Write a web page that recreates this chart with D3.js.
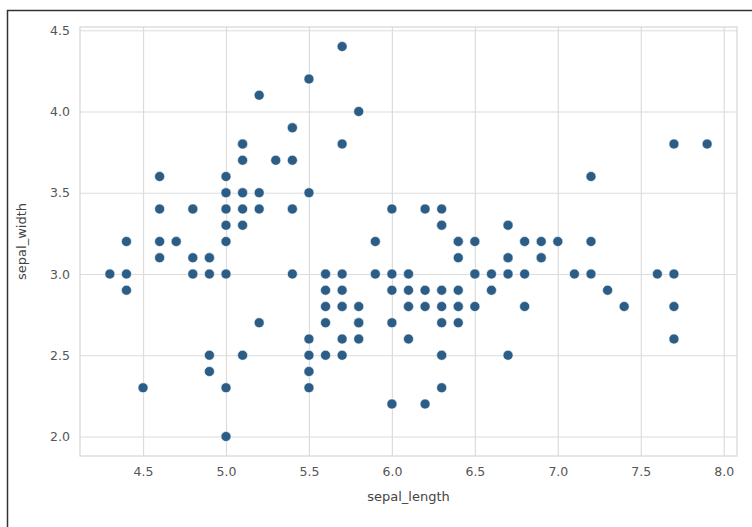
<!DOCTYPE html>
<html>
<head>
<meta charset="utf-8">
<script src="https://cdn.jsdelivr.net/npm/d3@7"></script>
<style>
  body { margin: 0; background: #fff; }
  .axis_text { font-family: "DejaVu Sans", sans-serif; font-size: 12.5px; fill: #555; }
  .label { font-family: "DejaVu Sans", sans-serif; font-size: 13px; fill: #444; }
</style>
</head>
<body>
<figure id="chart" style="margin:0"></figure>
<script>
// iris sepal measurements
var sepalLength = [
    5.1,4.9,4.7,4.6,5.0,5.4,4.6,5.0,4.4,4.9,5.4,4.8,4.8,4.3,5.8,5.7,5.4,5.1,5.7,5.1,
    5.4,5.1,4.6,5.1,4.8,5.0,5.0,5.2,5.2,4.7,4.8,5.4,5.2,5.5,4.9,5.0,5.5,4.9,4.4,5.1,
    5.0,4.5,4.4,5.0,5.1,4.8,5.1,4.6,5.3,5.0,
    7.0,6.4,6.9,5.5,6.5,5.7,6.3,4.9,6.6,5.2,5.0,5.9,6.0,6.1,5.6,6.7,5.6,5.8,6.2,5.6,
    5.9,6.1,6.3,6.1,6.4,6.6,6.8,6.7,6.0,5.7,5.5,5.5,5.8,6.0,5.4,6.0,6.7,6.3,5.6,5.5,
    5.5,6.1,5.8,5.0,5.6,5.7,5.7,6.2,5.1,5.7,
    6.3,5.8,7.1,6.3,6.5,7.6,4.9,7.3,6.7,7.2,6.5,6.4,6.8,5.7,5.8,6.4,6.5,7.7,7.7,6.0,
    6.9,5.6,7.7,6.3,6.7,7.2,6.2,6.1,6.4,7.2,7.4,7.9,6.4,6.3,6.1,7.7,6.3,6.4,6.0,6.9,
    6.7,6.9,5.8,6.8,6.7,6.7,6.3,6.5,6.2,5.9
];
var sepalWidth = [
    3.5,3.0,3.2,3.1,3.6,3.9,3.4,3.4,2.9,3.1,3.7,3.4,3.0,3.0,4.0,4.4,3.9,3.5,3.8,3.8,
    3.4,3.7,3.6,3.3,3.4,3.0,3.4,3.5,3.4,3.2,3.1,3.4,4.1,4.2,3.1,3.2,3.5,3.1,3.0,3.4,
    3.5,2.3,3.2,3.5,3.8,3.0,3.8,3.2,3.7,3.3,
    3.2,3.2,3.1,2.3,2.8,2.8,3.3,2.4,2.9,2.7,2.0,3.0,2.2,2.9,2.9,3.1,3.0,2.7,2.2,2.5,
    3.2,2.8,2.5,2.8,2.9,3.0,2.8,3.0,2.9,2.6,2.4,2.4,2.7,2.7,3.0,3.4,3.1,2.3,3.0,2.5,
    2.6,3.0,2.6,2.3,2.7,3.0,2.9,2.9,2.5,2.8,
    3.3,2.7,3.0,2.9,3.0,3.0,2.5,2.9,2.5,3.6,3.2,2.7,3.0,2.5,2.8,3.2,3.0,3.8,2.6,2.2,
    3.2,2.8,2.8,2.7,3.3,3.2,2.8,3.0,2.8,3.0,2.8,3.8,2.8,2.8,2.6,3.0,3.4,3.1,3.0,3.1,
    3.1,3.1,2.7,3.2,3.3,3.0,2.5,3.0,3.4,3.0
];
var xTicks = [4.5, 5.0, 5.5, 6.0, 6.5, 7.0, 7.5, 8.0];
var yTicks = [2.0, 2.5, 3.0, 3.5, 4.0, 4.5];

let dimensions = {
    width: 752,
    height: 527,
    margin: {
        top: 27,
        right: 15,
        bottom: 71,
        left: 80,
    },
};
dimensions.boundedWidth = dimensions.width - dimensions.margin.left - dimensions.margin.right;
dimensions.boundedHeight = dimensions.height - dimensions.margin.top - dimensions.margin.bottom;

var data = sepalLength.map((d, i) => ({ length: d, width: sepalWidth[i] }));

var root = d3.select("figure#chart")
    .append("svg")
    .attr("width", dimensions.width)
    .attr("height", dimensions.height);

// outer frame (left + top edge of the screenshot)
root.append("path")
    .attr("d", `M7.5,${dimensions.height} L7.5,10.5 L${dimensions.width},10.5`)
    .attr("fill", "none")
    .attr("stroke", "#333")
    .attr("stroke-width", 1.5);

var svg = root.append("g")
    .attr("transform", `translate(${dimensions.margin.left},${dimensions.margin.top})`);

// matplotlib-like 5% margins
var xExt = d3.extent(data, d => d.length), xPad = (xExt[1] - xExt[0]) * 0.05;
var yExt = d3.extent(data, d => d.width), yPad = (yExt[1] - yExt[0]) * 0.05;

var xScale = d3.scaleLinear()
    .domain([xExt[0] - xPad, xExt[1] + xPad])
    .range([0, dimensions.boundedWidth]);

var yScale = d3.scaleLinear()
    .domain([yExt[0] - yPad, yExt[1] + yPad])
    .range([dimensions.boundedHeight, 0]);

// grid
svg.append("g")
    .attr("class", "grid")
    .call(d3.axisBottom(xScale).tickValues(xTicks).tickSize(dimensions.boundedHeight).tickFormat(""))
    .call(g => g.select(".domain").remove())
    .selectAll("line").attr("stroke", "#dcdcdc").attr("stroke-width", 1.2);

svg.append("g")
    .attr("class", "grid")
    .call(d3.axisLeft(yScale).tickValues(yTicks).tickSize(-dimensions.boundedWidth).tickFormat(""))
    .call(g => g.select(".domain").remove())
    .selectAll("line").attr("stroke", "#dcdcdc").attr("stroke-width", 1.2);

// spines
svg.append("rect")
    .attr("width", dimensions.boundedWidth)
    .attr("height", dimensions.boundedHeight)
    .attr("fill", "none")
    .attr("stroke", "#d6d6d6")
    .attr("stroke-width", 1.2);

// points
svg.selectAll("circle")
    .data(data)
    .enter()
    .append("circle")
    .attr("cx", d => xScale(d.length))
    .attr("cy", d => yScale(d.width))
    .attr("r", 5)
    .attr("fill", "#2b5d86")
    .attr("stroke", "#fff")
    .attr("stroke-width", 0.6);

// axis labels
var xAxis = svg.append("g")
    .attr("class", "x axis")
    .attr("transform", `translate(0,${dimensions.boundedHeight})`)
    .call(d3.axisBottom(xScale).tickValues(xTicks).tickSize(0).tickPadding(11).tickFormat(d3.format(".1f")))
    .call(g => g.select(".domain").remove());
xAxis.selectAll("text").attr("class", "axis_text").attr("fill", null);

var yAxis = svg.append("g")
    .attr("class", "y axis")
    .call(d3.axisLeft(yScale).tickValues(yTicks).tickSize(0).tickPadding(10).tickFormat(d3.format(".1f")))
    .call(g => g.select(".domain").remove());
yAxis.selectAll("text").attr("class", "axis_text").attr("fill", null);

svg.append("text")
    .attr("class", "label")
    .attr("x", dimensions.boundedWidth / 2)
    .attr("y", dimensions.boundedHeight + 45)
    .attr("text-anchor", "middle")
    .text("sepal_length");

svg.append("text")
    .attr("class", "label")
    .attr("transform", `translate(-54,${dimensions.boundedHeight / 2}) rotate(-90)`)
    .attr("text-anchor", "middle")
    .text("sepal_width");
</script>
</body>
</html>
